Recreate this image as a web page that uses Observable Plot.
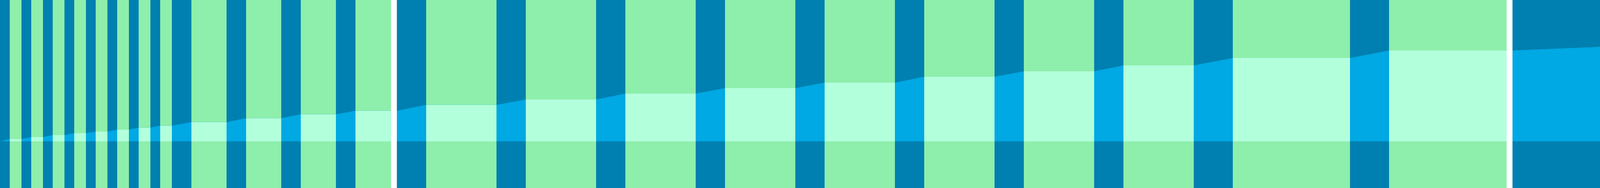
<!DOCTYPE html>
<html>
<head>
<meta charset="utf-8">
<script src="https://cdn.jsdelivr.net/npm/d3@7"></script>
<script src="https://cdn.jsdelivr.net/npm/@observablehq/plot@0.6"></script>
<style>
  html, body { margin: 0; padding: 0; background: #fff; overflow: hidden; }
  #chart svg { display: block; max-width: none !important; width: 4103px !important; height: 480px !important; }
</style>
</head>
<body>
<div id="chart"></div>
<script>
// Dark-blue columns (x extents)
const blueX1 = [0, 55, 110, 165, 220, 275, 330, 385, 440, 580, 720, 860, 1016, 1271, 1526, 1781, 2036, 2291, 2546, 2801, 3056, 3456, 3872];
const blueX2 = [25, 80, 135, 190, 245, 300, 355, 410, 490, 630, 770, 910, 1091, 1346, 1601, 1856, 2111, 2366, 2621, 2876, 3156, 3556, 4103];
// Green columns (x extents) and the plateau level of the rising area in each
const greenX1 = [25, 80, 135, 190, 245, 300, 355, 410, 490, 630, 770, 910, 1091, 1346, 1601, 1856, 2111, 2366, 2621, 2876, 3156, 3556];
const greenX2 = [55, 110, 165, 220, 275, 330, 385, 440, 580, 720, 860, 1016, 1271, 1526, 1781, 2036, 2291, 2546, 2801, 3056, 3456, 3872];
const level   = [5.7, 10.7, 15.7, 20.7, 24.7, 29.7, 35, 40, 49, 59, 69, 78, 93, 106.7, 121.7, 135.7, 149.7, 164.7, 178.7, 193.7, 212.7, 231.7];
const startX = 0, startLevel = 0;
const endX = 4103, endLevel = 241.4;
// White separators
const gapX1 = [1001, 3857];
const gapX2 = [1016, 3872];

const yMin = -119.3, yMax = 360.7;

const blue = blueX1.map((x1, i) => ({x1, x2: blueX2[i]}));
const green = greenX1.map((x1, i) => ({x1, x2: greenX2[i], v: level[i]}));
const gaps = gapX1.map((x1, i) => ({x1, x2: gapX2[i]}));
const areaPts = [{x: startX, v: startLevel}];
green.forEach(g => { areaPts.push({x: g.x1, v: g.v}); areaPts.push({x: g.x2, v: g.v}); });
areaPts.push({x: endX, v: endLevel});

const chart = Plot.plot({
  width: 4103,
  height: 480,
  margin: 0,
  x: {domain: [0, 4103], axis: null},
  y: {domain: [yMin, yMax], axis: null},
  style: {background: "#fff"},
  marks: [
    Plot.rect(blue, {x1: "x1", x2: "x2", y1: yMin, y2: yMax, fill: "#0080b0", shapeRendering: "crispEdges"}),
    Plot.rect(green, {x1: "x1", x2: "x2", y1: yMin, y2: yMax, fill: "#8eeeab", shapeRendering: "crispEdges"}),
    Plot.areaY(areaPts, {x: "x", y1: 0, y2: "v", fill: "#00a8e4", curve: "linear"}),
    Plot.rect(green, {x1: "x1", x2: "x2", y1: 0, y2: "v", fill: "#b2ffdc", shapeRendering: "crispEdges"}),
    Plot.rect(gaps, {x1: "x1", x2: "x2", y1: yMin, y2: yMax, fill: "#ffffff", shapeRendering: "crispEdges"})
  ]
});
document.getElementById("chart").appendChild(chart);
</script>
</body>
</html>
